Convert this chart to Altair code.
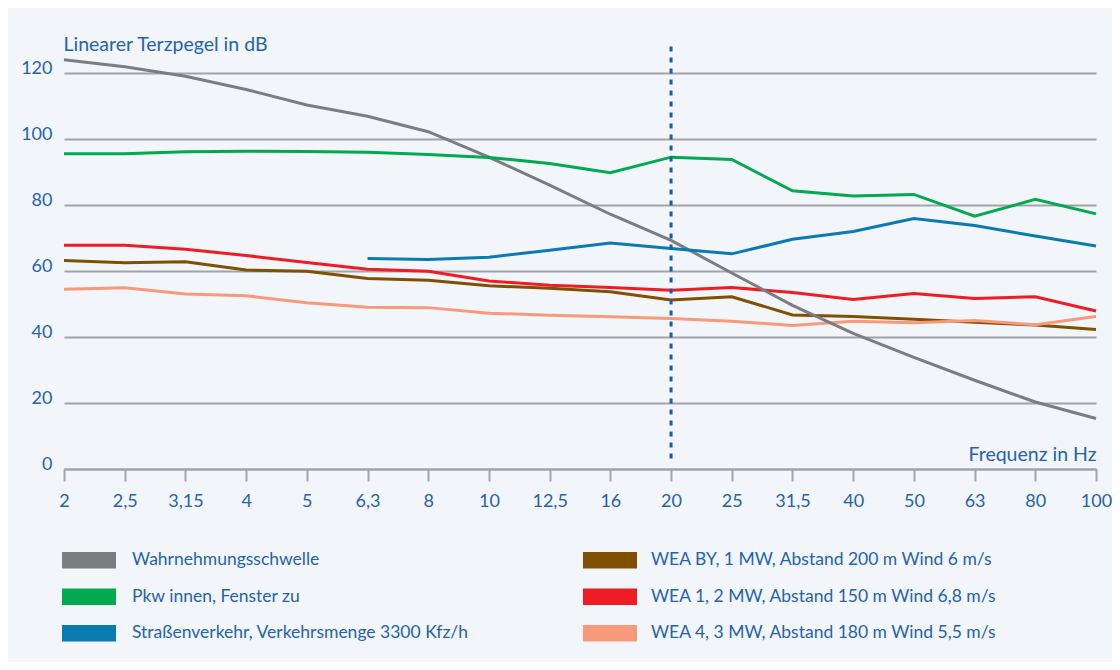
import altair as alt
import pandas as pd

freqs = ["2", "2,5", "3,15", "4", "5", "6,3", "8", "10", "12,5", "16",
         "20", "25", "31,5", "40", "50", "63", "80", "100"]

schwelle = [124.0, 121.9, 119.0, 115.0, 110.3, 106.9, 102.2, 94.5, 86.0, 77.2,
            69.3, 59.4, 49.6, 41.1, 33.8, 26.9, 20.3, 15.3]
pkw = [95.5, 95.5, 96.1, 96.3, 96.2, 96.0, 95.3, 94.4, 92.6, 89.8,
       94.5, 93.8, 84.3, 82.7, 83.2, 76.6, 81.7, 77.3]
strasse = [None, None, None, None, None, 63.8, 63.5, 64.2, 66.3, 68.5,
           66.8, 65.2, 69.6, 72.0, 75.9, 73.8, 70.6, 67.6]
wea_by = [63.2, 62.5, 62.8, 60.3, 59.9, 57.7, 57.2, 55.5, 54.8, 53.7,
          51.2, 52.2, 46.7, 46.2, 45.4, 44.5, 43.6, 42.3]
wea_1 = [67.8, 67.8, 66.6, 64.7, 62.6, 60.5, 59.9, 57.0, 55.7, 55.0,
         54.2, 55.0, 53.5, 51.4, 53.2, 51.7, 52.2, 47.9]
wea_4 = [54.5, 54.9, 53.0, 52.5, 50.4, 49.0, 48.9, 47.2, 46.6, 46.1,
         45.6, 44.8, 43.5, 44.8, 44.3, 45.0, 43.7, 46.2]

# left legend column: reference curves
names_a = [
    "Wahrnehmungsschwelle",
    "Pkw innen, Fenster zu",
    "Straßenverkehr, Verkehrsmenge 3300 Kfz/h",
]
values_a = [schwelle, pkw, strasse]
colors_a = ["#7b7e81", "#00a84f", "#0a7ab2"]

# right legend column: wind turbines
names_b = [
    "WEA BY, 1 MW, Abstand 200 m Wind 6 m/s",
    "WEA 1, 2 MW, Abstand 150 m Wind 6,8 m/s",
    "WEA 4, 3 MW, Abstand 180 m Wind 5,5 m/s",
]
values_b = [wea_by, wea_1, wea_4]
colors_b = ["#7f5000", "#ee1c25", "#f79a7b"]

marker_freq = "20"
marker_top = 128.0
marker_bottom = 1.4


def long_table(names, values):
    rows = []
    for name, vals in zip(names, values):
        for f, v in zip(freqs, vals):
            if v is not None:
                rows.append({"freq": f, "value": v, "series": name})
    return pd.DataFrame(rows)


df_a = long_table(names_a, values_a)
df_b = long_table(names_b, values_b)
rule_df = pd.DataFrame({"freq": [marker_freq], "top": [marker_top], "bottom": [marker_bottom]})

FONT = "Lato"
TXT = "#2563ab"
GRID = "#a3a4a8"

# legend swatch: a solid bar built from stacked horizontal strokes
SWATCH = "".join(f"M-6.75,{y}L6.75,{y}" for y in
                 [-1.75, -1.25, -0.75, -0.25, 0.25, 0.75, 1.25, 1.75])

x_enc = alt.X(
    "freq:N", sort=freqs,
    scale=alt.Scale(type="point", padding=0),
    axis=alt.Axis(
        title="Frequenz in Hz", titleX=1032, titleY=-8.5, titleAlign="right",
        titleBaseline="alphabetic", titleAngle=0,
        labelAngle=0, labelPadding=11, tickSize=12, tickWidth=2, tickColor=GRID,
        domainColor=GRID, domainWidth=2, grid=False,
    ),
)

y_axis = alt.Axis(
    title="Linearer Terzpegel in dB", titleAngle=0, titleX=-1, titleY=10,
    titleAlign="left", titleBaseline="alphabetic",
    values=[0, 20, 40, 60, 80, 100, 120], ticks=False, domain=False,
    labelBaseline="alphabetic", labelPadding=12,
    grid=True, gridColor=GRID, gridWidth=2,
)
y_scale = alt.Scale(domain=[0, 130], nice=False)


def legend(x, y, label_offset):
    return alt.Legend(
        orient="none", legendX=x, legendY=y, direction="vertical",
        title=None, symbolType=SWATCH, symbolSize=64, symbolStrokeWidth=2.5,
        symbolOpacity=1, labelFont=FONT, labelFontSize=17.5, labelColor=TXT,
        labelOffset=label_offset, rowPadding=11.5, padding=0, labelLimit=500,
    )


lines_a = alt.Chart(df_a).mark_line(strokeWidth=3).encode(
    x=x_enc,
    y=alt.Y("value:Q", scale=y_scale, axis=y_axis),
    color=alt.Color("series:N", scale=alt.Scale(domain=names_a, range=colors_a),
                    legend=legend(16.25, 511.5, 34.25)),
)

lines_b = alt.Chart(df_b).mark_line(strokeWidth=3).encode(
    x=x_enc,
    y=alt.Y("value:Q", scale=y_scale, axis=y_axis),
    stroke=alt.Stroke("series:N", scale=alt.Scale(domain=names_b, range=colors_b),
                      legend=legend(537.25, 511.5, 32.25)),
)

rule = alt.Chart(rule_df).mark_rule(strokeWidth=3, strokeDash=[5, 6], color="#1a5aa8").encode(
    x=x_enc,
    y=alt.Y("top:Q", scale=y_scale, axis=y_axis),
    y2="bottom:Q",
)

chart = alt.layer(lines_b, lines_a, rule).properties(
    width=1032, height=429,
    autosize=alt.AutoSizeParams(type="none"),
    padding={"left": 56, "top": 32, "right": 16, "bottom": 193},
    background="#f2f5fa",
).configure_view(stroke=None).configure_axis(
    labelFont=FONT, labelFontSize=18, labelColor=TXT,
    titleFont=FONT, titleFontSize=19.5, titleColor=TXT, titleFontWeight="normal",
)

chart.save("out.html", embed_options={"renderer": "svg", "actions": False})
